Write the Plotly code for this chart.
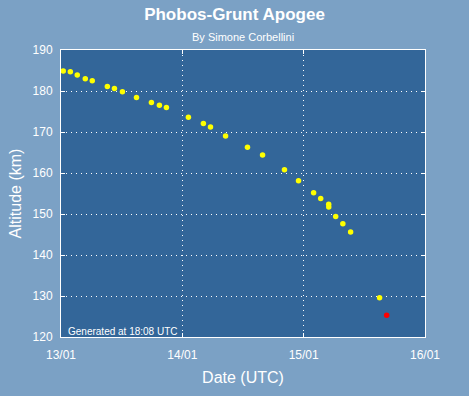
import plotly.graph_objects as go

times = [
    "2012-01-13 00:27", "2012-01-13 01:51", "2012-01-13 03:13", "2012-01-13 04:48",
    "2012-01-13 06:11", "2012-01-13 09:10", "2012-01-13 10:34", "2012-01-13 12:09",
    "2012-01-13 14:56", "2012-01-13 17:53", "2012-01-13 19:28", "2012-01-13 20:51",
    "2012-01-14 01:12", "2012-01-14 04:10", "2012-01-14 05:34", "2012-01-14 08:33",
    "2012-01-14 12:53", "2012-01-14 15:52", "2012-01-14 20:12", "2012-01-14 22:59",
    "2012-01-15 01:58", "2012-01-15 03:22", "2012-01-15 04:57", "2012-01-15 04:58",
    "2012-01-15 06:20", "2012-01-15 07:45", "2012-01-15 09:17", "2012-01-15 15:01",
]
apogee = [
    184.9, 184.7, 183.9, 183.0, 182.5, 181.1, 180.6, 179.8,
    178.4, 177.2, 176.5, 176.0, 173.6, 172.1, 171.2, 169.0,
    166.3, 164.4, 160.8, 158.1, 155.2, 153.8, 152.4, 151.7,
    149.4, 147.6, 145.6, 129.6,
]
latest_time = ["2012-01-15 16:25"]
latest_apogee = [125.3]

x_ticks = ["2012-01-13", "2012-01-14", "2012-01-15", "2012-01-16"]
x_tick_labels = ["13/01", "14/01", "15/01", "16/01"]
y_ticks = [120, 130, 140, 150, 160, 170, 180, 190]

paper = "#7BA1C5"
plotbg = "#336699"
font = "Liberation Sans, Arial, sans-serif"

fig = go.Figure()
fig.add_trace(go.Scatter(x=times, y=apogee, mode="markers",
                         marker=dict(color="#FFFF00", size=5.5, symbol="circle", line=dict(width=0)),
                         showlegend=False))
fig.add_trace(go.Scatter(x=latest_time, y=latest_apogee, mode="markers",
                         marker=dict(color="#FF0000", size=5.5, symbol="circle", line=dict(width=0)),
                         showlegend=False))

fig.update_layout(
    width=469, height=396,
    margin=dict(l=61, r=44, t=50, b=56),
    paper_bgcolor=paper, plot_bgcolor=plotbg,
    font=dict(family=font, color="white"),
    title=dict(text="<b>Phobos-Grunt Apogee</b>", x=0.5, xanchor="center",
               y=1 - 14 / 396, yanchor="middle", font=dict(size=17, color="white")),
    xaxis=dict(
        range=["2012-01-13", "2012-01-16"], tickvals=x_ticks, ticktext=x_tick_labels,
        showgrid=True, gridcolor="white", griddash="1px,4px", gridwidth=1,
        showline=True, linecolor="white", linewidth=1, mirror="ticks",
        ticks="inside", ticklen=4, tickcolor="white", zeroline=False,
        ticklabelstandoff=7,
        tickfont=dict(size=12, color="white"),
        title=dict(text="Date (UTC)", font=dict(size=16, color="white"), standoff=10),
    ),
    yaxis=dict(
        range=[120, 190], tickvals=y_ticks,
        showgrid=True, gridcolor="white", griddash="1px,4px", gridwidth=1,
        showline=True, linecolor="white", linewidth=1, mirror="ticks",
        ticks="inside", ticklen=4, tickcolor="white", zeroline=False,
        ticklabelstandoff=5,
        tickfont=dict(size=12, color="white"),
        title=dict(text="Altitude (km)", font=dict(size=16, color="white"), standoff=6),
    ),
    annotations=[
        dict(text="By Simone Corbellini", x=0.5, xref="paper", xanchor="center",
             y=37, yref="paper", showarrow=False, font=dict(size=11, color="white")),
        dict(text="Generated at 18:08 UTC", x=0.015, xref="paper", xanchor="left",
             y=-0.006, yref="paper", yanchor="bottom", showarrow=False,
             font=dict(size=10, color="white")),
    ],
)
plot_h = 396 - 50 - 56
fig.layout.annotations[0].y = 1 + (50 - 37) / plot_h
fig.layout.annotations[0].yanchor = "middle"

fig.write_html("out.html")
